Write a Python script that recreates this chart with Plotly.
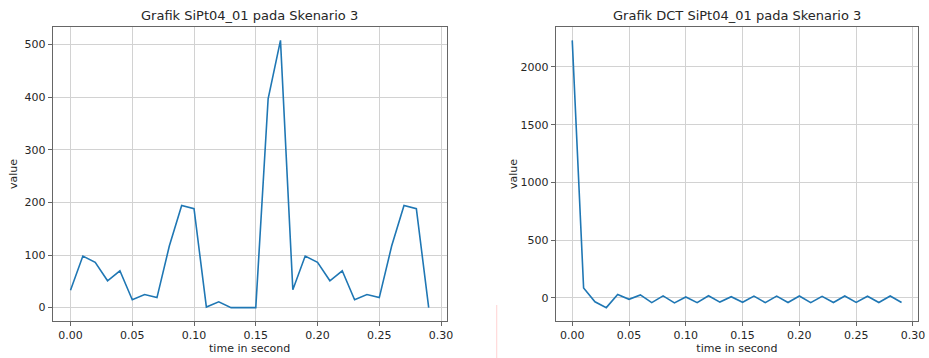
import plotly.graph_objects as go

# ---- data ----
time_s = [round(i * 0.01, 2) for i in range(30)]
signal_values = [33, 98, 86, 51, 70, 15, 25, 19, 117, 194,
                 188, 1, 11, 0, 0, 0, 397, 508, 34, 98,
                 86, 51, 70, 15, 25, 19, 117, 194, 188, 0]
dct_values = [2230, 87, -33, -84, 29, -12, 26, -41, 18, -43,
              8, -41, 19, -36, 11, -38, 16, -41, 16, -40,
              17, -41, 14, -40, 17, -39, 15, -40, 17, -40]
left_title = "Grafik SiPt04_01 pada Skenario 3"
right_title = "Grafik DCT SiPt04_01 pada Skenario 3"
x_label = "time in second"
y_label = "value"
x_ticks = [0.0, 0.05, 0.10, 0.15, 0.20, 0.25, 0.30]
left_y_ticks = [0, 100, 200, 300, 400, 500]
right_y_ticks = [0, 500, 1000, 1500, 2000]

W, H = 929, 358
FONT = "DejaVu Sans"
LINE_C = "#1f77b4"
SPINE = "#666666"
GRID = "#d2d2d2"
TXT = "#262626"


def px_x(p):
    return p / W


def px_y(p):
    return 1 - p / H


def pad(vals):
    lo, hi = min(vals), max(vals)
    m = (hi - lo) * 0.05
    return [lo - m, hi + m]


fig = go.Figure()
fig.add_trace(go.Scatter(x=time_s, y=signal_values, mode="lines",
                         line=dict(color=LINE_C, width=1.6),
                         xaxis="x", yaxis="y", showlegend=False))
fig.add_trace(go.Scatter(x=time_s, y=dct_values, mode="lines",
                         line=dict(color=LINE_C, width=1.6),
                         xaxis="x2", yaxis="y2", showlegend=False))

axis_common = dict(
    showline=True, linecolor=SPINE, linewidth=1, mirror=True,
    ticks="outside", ticklen=4, tickwidth=1, tickcolor=SPINE,
    showgrid=True, gridcolor=GRID, gridwidth=1, zeroline=False,
    layer="above traces",
    tickfont=dict(family=FONT, size=11, color=TXT),
)
title_font = dict(family=FONT, size=11, color=TXT)

ydom = [px_y(321), px_y(27)]
fig.update_layout(
    width=W, height=H,
    margin=dict(l=0, r=0, t=0, b=0),
    paper_bgcolor="white", plot_bgcolor="white",
    font=dict(family=FONT, color=TXT),
    xaxis=dict(domain=[px_x(53), px_x(450)], anchor="y",
               range=pad(time_s), tickvals=x_ticks, tickformat=".2f",
               title=dict(text=x_label, font=title_font, standoff=2),
               **axis_common),
    yaxis=dict(domain=ydom, anchor="x",
               range=pad(signal_values), tickvals=left_y_ticks,
               title=dict(text=y_label, font=title_font, standoff=4),
               **axis_common),
    xaxis2=dict(domain=[px_x(560), px_x(925)], anchor="y2",
                range=pad(time_s), tickvals=x_ticks, tickformat=".2f",
                title=dict(text=x_label, font=title_font, standoff=2),
                **axis_common),
    yaxis2=dict(domain=ydom, anchor="x2",
                range=pad(dct_values), tickvals=right_y_ticks,
                title=dict(text=y_label, font=title_font, standoff=0),
                **axis_common),
    annotations=[
        dict(text=left_title, xref="paper", yref="paper",
             x=px_x(251.5), y=px_y(15), xanchor="center", yanchor="middle",
             showarrow=False, font=dict(family=FONT, size=13, color=TXT)),
        dict(text=right_title, xref="paper", yref="paper",
             x=px_x(742.5), y=px_y(15), xanchor="center", yanchor="middle",
             showarrow=False, font=dict(family=FONT, size=13, color=TXT)),
    ],
    shapes=[
        dict(type="line", xref="paper", yref="paper",
             x0=px_x(500.5), x1=px_x(500.5), y0=px_y(305), y1=0,
             line=dict(color="#ffd3d3", width=1)),
    ],
)

fig.write_html(
    "out.html",
    config={"displayModeBar": False},
    post_script="document.body.style.margin='0';document.body.style.overflow='hidden';",
)
